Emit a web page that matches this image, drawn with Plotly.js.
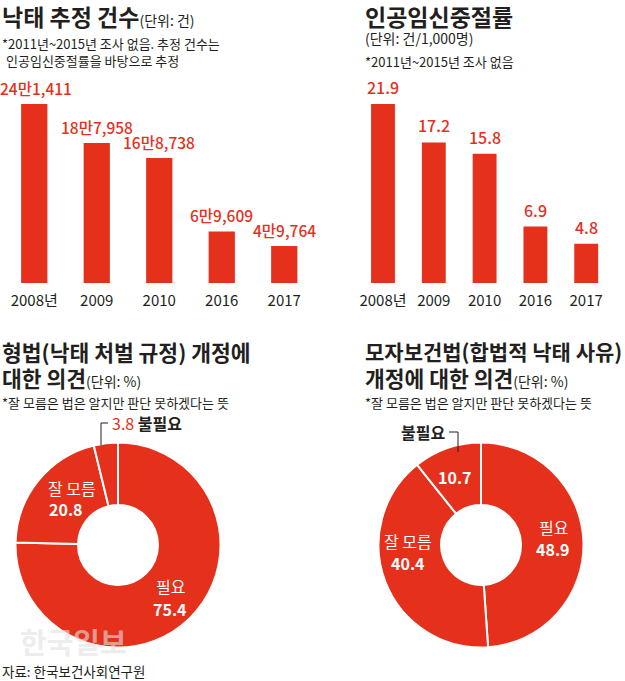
<!DOCTYPE html>
<html><head><meta charset="utf-8">
<script src="https://cdn.plot.ly/plotly-3.0.1.min.js"></script>
<style>html,body{margin:0;padding:0;background:#fff}#chart{width:625px;height:681px}</style>
</head><body><div id="chart"></div>
<script>
// ---- data ----
const years = ['2008','2009','2010','2016','2017'];
const yearTicks = ['2008년','2009','2010','2016','2017'];
const abortionCounts = [241411, 188958, 168738, 69609, 49764];
const abortionCountLabels = ['24만1,411','18만7,958','16만8,738','6만9,609','4만9,764'];
const abortionRates = [21.9, 17.2, 15.8, 6.9, 4.8];
const abortionRateLabels = ['21.9','17.2','15.8','6.9','4.8'];
const opinionLabels = ['필요','잘 모름','불필요'];
const criminalLawOpinion = [75.4, 20.8, 3.8];
const maternalLawOpinion = [48.9, 40.4, 10.7];

const W = 625, H = 681;
const RED = '#e5311b', DARK = '#231f20';
const FONT = 'Noto Sans CJK KR, Noto Sans, sans-serif';
const px = x => x / W, py = y => 1 - y / H;
const idx = years.map((_, i) => i);

const traces = [
  {type:'bar', x:idx, y:abortionCounts, xaxis:'x', yaxis:'y', width:0.42,
   marker:{color:RED}, hoverinfo:'none'},
  {type:'bar', x:idx, y:abortionRates, xaxis:'x2', yaxis:'y2', width:0.47,
   marker:{color:RED}, hoverinfo:'none'},
  {type:'pie', values:criminalLawOpinion, labels:opinionLabels, sort:false,
   direction:'clockwise', rotation:0, hole:0.39, textinfo:'none', hoverinfo:'none',
   showlegend:false,
   marker:{colors:[RED,RED,RED], line:{color:'#fff', width:2}},
   domain:{x:[px(15.5), px(220.5)], y:[py(647.5), py(442.5)]}},
  {type:'pie', values:maternalLawOpinion, labels:opinionLabels, sort:false,
   direction:'clockwise', rotation:0, hole:0.39, textinfo:'none', hoverinfo:'none',
   showlegend:false,
   marker:{colors:[RED,RED,RED], line:{color:'#fff', width:2}},
   domain:{x:[px(378.5), px(583.5)], y:[py(647.5), py(442.5)]}}
];

function txt(x, y, text, size, opts) {
  opts = opts || {};
  return {xref:'paper', yref:'paper', x:px(x), y:py(y), text:text, showarrow:false,
    xanchor:opts.xanchor || 'left', yanchor:'middle',
    font:{family:FONT, size:size, color:opts.color || DARK, weight:opts.weight || 400}};
}
const W_OPTS = {color:'#fff', xanchor:'center'};
const WB_OPTS = {color:'#fff', xanchor:'center', weight:700};

const annotations = [
  // top-left
  txt(0, 16, '<b>낙태 추정 건수</b><span style="font-size:14px">(단위: 건)</span>', 23),
  txt(0, 43, '*2011년~2015년 조사 없음. 추정 건수는', 13),
  txt(4, 60, '인공임신중절률을 바탕으로 추정', 13),
  // top-right
  txt(363, 16, '<b>인공임신중절률</b>', 23),
  txt(363, 38, '(단위: 건/1,000명)', 14),
  txt(363, 61, '*2011년~2015년 조사 없음', 13),
  // bottom-left
  txt(0, 351, '<b>형법(낙태 처벌 규정) 개정에</b>', 21.5),
  txt(0, 377, '<b>대한 의견</b><span style="font-size:14px">(단위: %)</span>', 21.5),
  txt(0, 402, '*잘 모름은 법은 알지만 판단 못하겠다는 뜻', 13),
  // bottom-right
  txt(363, 351, '<b>모자보건법(합법적 낙태 사유)</b>', 21),
  txt(363, 377, '<b>개정에 대한 의견</b><span style="font-size:14px">(단위: %)</span>', 21.5),
  txt(363, 402, '*잘 모름은 법은 알지만 판단 못하겠다는 뜻', 13),
  // left donut labels
  txt(110, 423, '<span style="color:' + RED + '">' + criminalLawOpinion[2] + '</span> <b>' + opinionLabels[2] + '</b>', 16),
  txt(46, 488, opinionLabels[1], 16, {color:'#fff'}),
  txt(47, 509, String(criminalLawOpinion[1]), 16, {color:'#fff', weight:700}),
  txt(170, 586, opinionLabels[0], 16, W_OPTS),
  txt(170, 609, String(criminalLawOpinion[0]), 16, WB_OPTS),
  // right donut labels
  txt(447, 432, '<b>' + opinionLabels[2] + '</b>', 16, {xanchor:'right'}),
  txt(455, 477, String(maternalLawOpinion[2]), 16, WB_OPTS),
  txt(553, 527, opinionLabels[0], 16, W_OPTS),
  txt(553, 549, String(maternalLawOpinion[0]), 16, WB_OPTS),
  txt(408, 541, opinionLabels[1], 16, W_OPTS),
  txt(408, 563, String(maternalLawOpinion[1]), 16, WB_OPTS),
  // source & watermark
  txt(0, 671, '자료: 한국보건사회연구원', 13.5),
  txt(18, 641, '<b>한국일보</b>', 29, {color:'rgba(225,225,225,0.6)'})
];

abortionCounts.forEach((v, i) => annotations.push({xref:'x', yref:'y', x:i, y:v,
  text:abortionCountLabels[i], showarrow:false, yanchor:'bottom', xanchor:'center', yshift:3,
  xshift: i === 0 ? 2 : 0,
  font:{family:FONT, size:15.5, color:RED, weight:500}}));
abortionRates.forEach((v, i) => annotations.push({xref:'x2', yref:'y2', x:i, y:v,
  text:abortionRateLabels[i], showarrow:false, yanchor:'bottom', xanchor:'center', yshift:3,
  font:{family:FONT, size:16, color:RED, weight:500}}));

const shapes = [
  {type:'path', xref:'paper', yref:'paper',
   path:'M ' + px(101) + ' ' + py(445) + ' L ' + px(101) + ' ' + py(423) + ' L ' + px(108) + ' ' + py(423),
   line:{color:DARK, width:1}},
  {type:'path', xref:'paper', yref:'paper',
   path:'M ' + px(449) + ' ' + py(432) + ' L ' + px(458) + ' ' + py(432) + ' L ' + px(458) + ' ' + py(452),
   line:{color:DARK, width:1}}
];

const xaxisBase = {type:'linear', tickmode:'array', tickvals:idx, ticktext:yearTicks, showgrid:false,
  zeroline:false, showline:false, ticks:'', ticklabelstandoff:7, tickfont:{family:FONT, size:15, color:DARK},
  range:[-0.5, 4.5], fixedrange:true};

const layout = {
  width:W, height:H, margin:{l:0, r:0, t:0, b:0},
  paper_bgcolor:'#fff', plot_bgcolor:'rgba(0,0,0,0)', showlegend:false,
  xaxis:Object.assign({}, xaxisBase, {domain:[px(3), px(315.5)], anchor:'y'}),
  yaxis:{domain:[py(283), py(104)], range:[0, Math.max(...abortionCounts)], visible:false, fixedrange:true},
  xaxis2:Object.assign({}, xaxisBase, {domain:[px(357.6), px(611.6)], anchor:'y2'}),
  yaxis2:{domain:[py(283), py(104)], range:[0, Math.max(...abortionRates)], visible:false, fixedrange:true},
  annotations:annotations, shapes:shapes,
  font:{family:FONT}
};

Plotly.newPlot('chart', traces, layout, {displayModeBar:false, staticPlot:true});
</script></body></html>
